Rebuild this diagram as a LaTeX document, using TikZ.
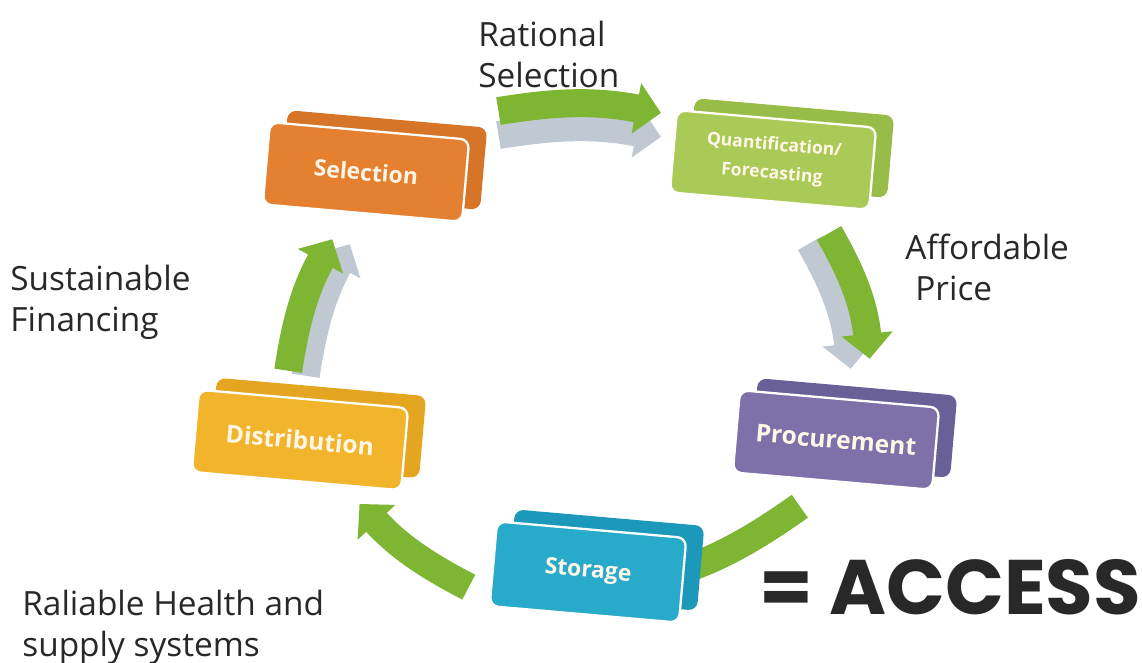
\documentclass[tikz,border=0pt]{standalone}
\usepackage{fontspec}
\setmainfont{Open Sans}
\newfontfamily\accessfont{Poppins}
\usetikzlibrary{arrows.meta, positioning, calc}
\pgfdeclarelayer{background}
\pgfsetlayers{background,main}

\definecolor{selorange}{RGB}{228, 128, 48}
\definecolor{selback}{RGB}{214, 116, 40}
\definecolor{quantgreen}{RGB}{170, 202, 88}
\definecolor{quantback}{RGB}{152, 188, 72}
\definecolor{distyellow}{RGB}{241, 180, 42}
\definecolor{distback}{RGB}{228, 166, 32}
\definecolor{procpurple}{RGB}{126, 112, 168}
\definecolor{procback}{RGB}{106, 96, 152}
\definecolor{storecyan}{RGB}{40, 170, 202}
\definecolor{storeback}{RGB}{28, 152, 186}
\definecolor{flowgreen}{RGB}{126, 182, 52}
\definecolor{flowgrey}{RGB}{192, 200, 210}
\definecolor{labelwhite}{RGB}{255, 246, 232}
\definecolor{captiongrey}{RGB}{40, 40, 40}

\tikzset{
  stageback/.style={rounded corners=5pt, minimum width=4.0cm, minimum height=1.65cm,
    rotate=-5, inner sep=0pt},
  stagefront/.style={stageback, draw=white, line width=1.3pt, text=labelwhite,
    font=\bfseries\fontsize{13}{14}\selectfont, align=center},
  flow/.style={line width=0.56cm, flowgreen, -{Triangle[length=0.5cm, width=1.0cm]}},
  flowshade/.style={flow, flowgrey},
  caption/.style={font=\fontsize{19}{23}\selectfont, text=captiongrey, align=left,
    inner sep=0pt, anchor=north west},
}

\begin{document}
\begin{tikzpicture}
  \useasboundingbox (0,0) rectangle (22.84,13.24);

  % Back plates
  \node[stageback, fill=selback] (selb) at (7.68,10.04) {};
  \node[stageback, fill=quantback] (quantb) at (15.82,10.28) {};
  \node[stageback, fill=distback, minimum width=4.2cm] (distb) at (6.36,4.68) {};
  \node[stageback, fill=procback] (procb) at (17.08,4.68) {};
  \node[stageback, fill=storeback, minimum width=3.8cm, minimum height=1.7cm] (storeb) at (12.12,2.04) {};

  % Stages
  \node[stagefront, fill=selorange] (sel) at (7.32,9.80) {Selection};
  \node[stagefront, fill=quantgreen, font=\bfseries\fontsize{10}{16}\selectfont] (quant) at (15.46,10.04) {Quantification/\\Forecasting};
  \node[stagefront, fill=distyellow, minimum width=4.2cm, font=\bfseries\fontsize{14}{15}\selectfont] (dist) at (6.00,4.44) {Distribution};
  \node[stagefront, fill=procpurple, font=\bfseries\fontsize{14}{15}\selectfont] (proc) at (16.72,4.44) {Procurement};
  \node[stagefront, fill=storecyan, minimum width=3.8cm, minimum height=1.7cm] (store) at (11.76,1.80) {Storage};

  % Flow arrows, behind the stages
  \begin{pgfonlayer}{background}
    \draw[flowshade, transform canvas={yshift=-0.48cm}] ([shift={(0.56,0.55)}]sel.north east) to[bend left=10] ([shift={(-0.3,-0.08)}]quant.north west);
    \draw[flow] ([shift={(0.56,0.55)}]sel.north east) to[bend left=10] ([shift={(-0.3,-0.08)}]quant.north west);

    \draw[flowshade, transform canvas={xshift=-0.38cm, yshift=-0.2cm}] ([shift={(-0.82,-0.44)}]quant.south east) to[bend left=12] ([shift={(0.6,0.78)}]proc.north);
    \draw[flow] ([shift={(-0.82,-0.44)}]quant.south east) to[bend left=12] ([shift={(0.6,0.78)}]proc.north);

    \draw[flow] ([shift={(-0.65,-0.48)}]proc.south) to[bend left=10] ([shift={(-0.9,-0.05)}]store.east);

    \draw[flow] ([shift={(-0.47,-0.47)}]store.west) to[bend left=10] ([shift={(-0.85,-0.25)}]dist.south east);

    \draw[flowshade, transform canvas={xshift=0.35cm, yshift=-0.1cm}] ([shift={(-0.31,0.54)}]dist.north) to[bend left=10] ([shift={(-0.6,-0.5)}]sel.south);
    \draw[flow] ([shift={(-0.31,0.54)}]dist.north) to[bend left=10] ([shift={(-0.6,-0.5)}]sel.south);
  \end{pgfonlayer}

  % Captions
  \node[caption] (rational) at (9.56,12.82) {Rational\\Selection};
  \node[caption] (afford) at (18.10,8.56) {Affordable\\\hspace{0.3em}Price};
  \node[caption] (finance) at (0.20,7.94) {Sustainable\\Financing};
  \node[caption] (reliable) at (0.44,1.44) {Raliable Health and\\supply systems};

  % Result
  \node[font=\accessfont\bfseries\fontsize{44}{48}\selectfont, text=captiongrey, inner sep=0pt] (access) at (19.0,1.5) {= ACCESS};
\end{tikzpicture}
\end{document}
